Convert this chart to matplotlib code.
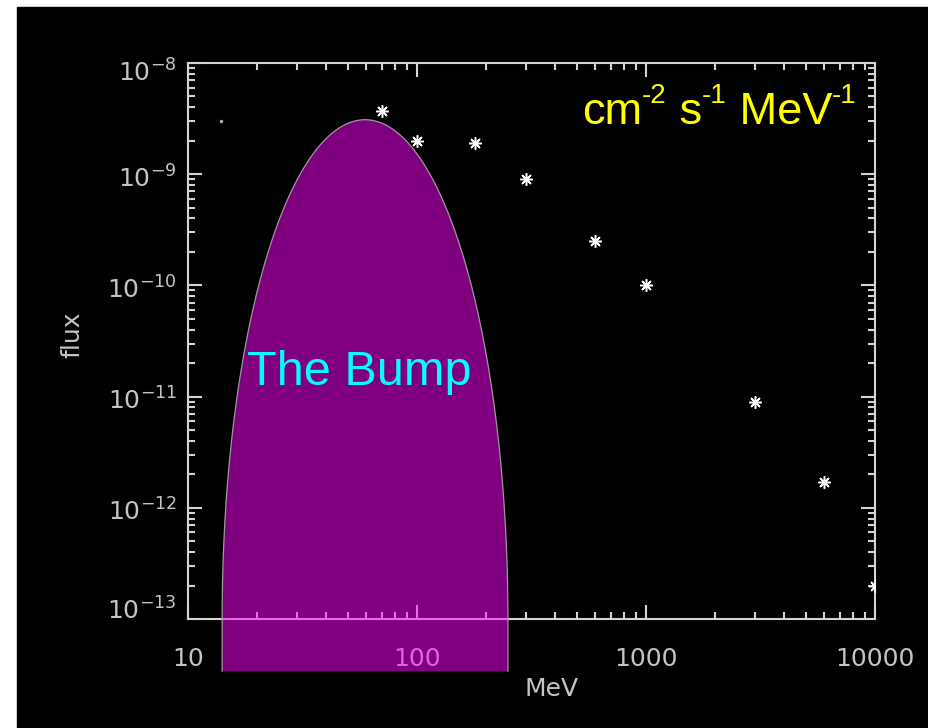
import numpy as np
import matplotlib
matplotlib.use("Agg")
import matplotlib.pyplot as plt
from matplotlib.patches import Rectangle
from matplotlib.ticker import FuncFormatter, NullFormatter, LogLocator
import matplotlib.transforms as mtrans

plt.rcParams['mathtext.fontset'] = 'dejavusans'
plt.rcParams['mathtext.default'] = 'regular'

# measured points (MeV, flux)
energy = [70, 100, 180, 300, 600, 1000, 3000, 6000, 10000]
flux = [3.7e-9, 2.0e-9, 1.9e-9, 9.0e-10, 2.5e-10, 1.0e-10, 9.0e-12, 1.7e-12, 2.0e-13]
dot_energy = [14]
dot_flux = [3.0e-9]

x_ticks = [10, 100, 1000, 10000]
y_ticks = [1e-13, 1e-12, 1e-11, 1e-10, 1e-9, 1e-8]

# "The Bump" shape, in decades (log10 space)
bump_logE_center = 1.773
bump_half_width = 0.624
bump_logF_base = -13.0
bump_height = 4.49
bump_logF_bottom = -13.47

W, H = 929, 728
fig = plt.figure(figsize=(W / 100, H / 100), dpi=100, facecolor='white')
fig.patches.append(Rectangle((17 / W, 0), 1 - 17 / W, 1 - 7 / H,
                             transform=fig.transFigure, color='black', zorder=-10))

ax = fig.add_axes([188 / W, 1 - 619 / H, (875 - 188) / W, (619 - 63) / H])
ax.set_facecolor('black')
ax.set_xscale('log')
ax.set_yscale('log')
ax.set_xlim(10, 10000)
ax.set_ylim(1e-13, 1e-8)

lc = '#d4d4d4'
for s in ax.spines.values():
    s.set_color(lc)
    s.set_linewidth(1.5)

ax.set_xticks(x_ticks)
ax.set_yticks(y_ticks)
ax.xaxis.set_minor_locator(LogLocator(base=10, subs=np.arange(2, 10)))
ax.yaxis.set_minor_locator(LogLocator(base=10, subs=np.arange(2, 10), numticks=20))
ax.xaxis.set_major_formatter(FuncFormatter(lambda v, p: '%d' % round(v)))
ax.xaxis.set_minor_formatter(NullFormatter())
ax.yaxis.set_minor_formatter(NullFormatter())

ax.tick_params(which='both', direction='in', top=True, right=True,
               color=lc, width=1.5, labelcolor='#c4c4c4', labelsize=18)
ax.tick_params(which='major', length=10)
ax.tick_params(which='minor', length=5)
ax.tick_params(axis='x', pad=20)
ax.tick_params(axis='y', pad=8)

# end labels are nudged inward like the original plot
y_label_shift = [11, -2, -2, -2, -2, -8]
for lab, dy in zip(ax.get_yticklabels(), y_label_shift):
    off = mtrans.ScaledTranslation(0, dy / 100, fig.dpi_scale_trans)
    lab.set_transform(lab.get_transform() + off)

# data points
ax.plot(energy, flux, linestyle='none', marker=(8, 2, 0), ms=9, mew=1.1,
        color='white', zorder=5)
ax.plot(dot_energy, dot_flux, linestyle='none', marker='o', ms=1.5,
        color='#aaaaaa', zorder=5)

# the bump overlay
theta = np.linspace(np.pi, 0, 300)
lx = bump_logE_center + bump_half_width * np.cos(theta)
ly = bump_logF_base + bump_height * np.sin(theta)
bx = np.concatenate([[lx[0]], lx, [lx[-1]]])
by = np.concatenate([[bump_logF_bottom], ly, [bump_logF_bottom]])
ax.fill(10 ** bx, 10 ** by, color='#ff00ff', alpha=0.5, lw=0,
        clip_on=False, zorder=10)
ax.plot(10 ** bx, 10 ** by, color='#9a9a9a', lw=0.9, clip_on=False, zorder=11)

fig.text(72 / W, 1 - 335 / H, 'flux', rotation=90, ha='center', va='center',
         fontsize=18, color='#c4c4c4')
fig.text(552 / W, 1 - 689 / H, 'MeV', ha='center', va='center',
         fontsize=18, color='#c4c4c4')

# units label, built piece by piece (small raised hyphen superscripts)
unit_parts = [('cm', False), ('-2', True), (' s', False), ('-1', True),
              (' MeV', False), ('-1', True)]
renderer = fig.canvas.get_renderer()
xp = 582
for txt, sup in unit_parts:
    yb = 124 - (21 if sup else 0)
    t = fig.text(xp / W, 1 - yb / H, txt, ha='left', va='baseline',
                 fontsize=20 if sup else 32.5, color='yellow',
                 family='Liberation Sans', zorder=20)
    xp = t.get_window_extent(renderer).x1

fig.text(247 / W, 1 - 385 / H, 'The Bump', ha='left', va='baseline',
         fontsize=35, color='#00ffff', family='Liberation Sans', zorder=20)

fig.savefig('out.png', dpi=100, facecolor=fig.get_facecolor())
